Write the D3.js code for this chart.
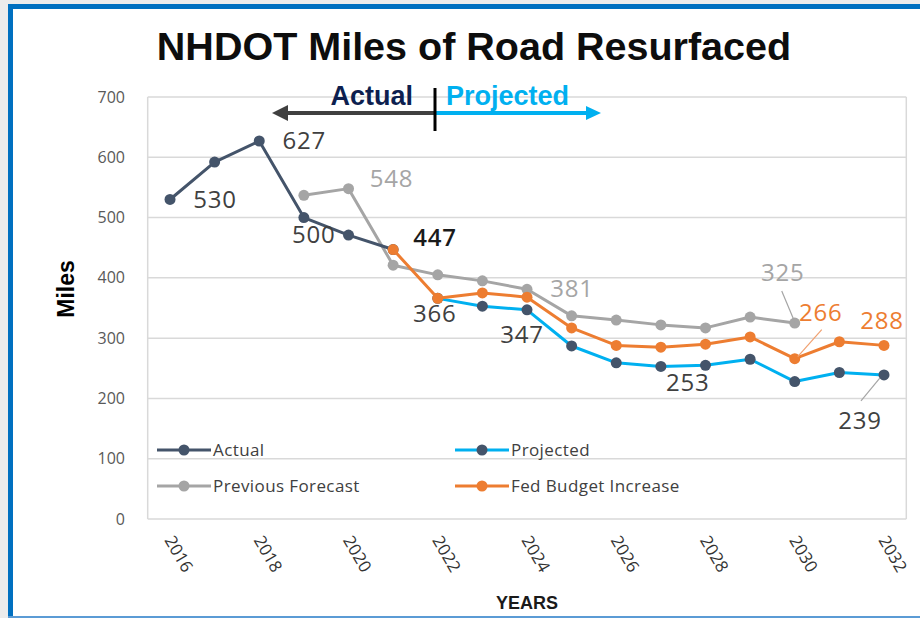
<!DOCTYPE html>
<html>
<head>
<meta charset="utf-8">
<script src="https://cdn.jsdelivr.net/npm/d3@7"></script>
<style>
  html, body { margin: 0; padding: 0; background: #ececec; }
  svg { display: block; }
</style>
</head>
<body>
<svg id="chart" width="920" height="618"></svg>
<script>
// ---- data ----
const years = [2016,2017,2018,2019,2020,2021,2022,2023,2024,2025,2026,2027,2028,2029,2030,2031,2032];
const tickYears = [2016,2018,2020,2022,2024,2026,2028,2030,2032];
const yTicks = [0,100,200,300,400,500,600,700];

const actualYears = [2016,2017,2018,2019,2020,2021];
const actualValues = [530,592,627,500,471,447];

const projectedYears = [2022,2023,2024,2025,2026,2027,2028,2029,2030,2031,2032];
const projectedValues = [366,353,347,287,259,253,255,265,228,243,239];

const previousYears = [2019,2020,2021,2022,2023,2024,2025,2026,2027,2028,2029,2030];
const previousValues = [537,548,421,405,395,381,337,330,322,317,335,325];

const fedYears = [2021,2022,2023,2024,2025,2026,2027,2028,2029,2030,2031,2032];
const fedValues = [447,366,375,368,317,288,285,290,302,266,294,288];

const seriesNames = ["Actual","Projected","Previous Forecast","Fed Budget Increase"];

// value labels: series, year, value
const labelSeries = ["actual","actual","actual","previous","fed","projected","projected","previous","projected","previous","fed","fed","projected"];
const labelYears  = [2016,2018,2019,2020,2021,2022,2024,2024,2027,2030,2030,2032,2032];
const labelValues = [530,627,500,548,447,366,347,381,253,325,266,288,239];

// ---- layout / style ----
const W = 920, H = 618;
const plot = {left: 147.7, right: 906.3, top: 97, bottom: 519};
const colors = {
  actual: "#44546a", projected: "#00b0f0", previous: "#a5a5a5", fed: "#ed7d31",
  marker: "#44546a", grid: "#d9d9d9"
};
const labelColors = {actual: "#404040", projected: "#404040", previous: "#a5a5a5", fed: "#ed7d31"};
// label offsets (dx, dy) from its point, and optional leader line
const labelOffsets = [
  {dx:45, dy:9}, {dx:45, dy:8}, {dx:10, dy:25}, {dx:43, dy:-2},
  {dx:42, dy:-4, bold:true}, {dx:-3, dy:24}, {dx:-5, dy:33}, {dx:45, dy:8},
  {dx:27, dy:25},
  {dx:-12, dy:-42, leader:[[-13,-32],[0,-1]]},
  {dx:26, dy:-38, leader:[[27,-29],[3,-2]]},
  {dx:-2, dy:-16},
  {dx:-24, dy:54, leader:[[-23,26],[-4,3]]}
];

const svg = d3.select("#chart");

// frame
svg.append("rect").attr("x", 0).attr("y", 0).attr("width", W).attr("height", H).attr("fill", "#ececec");
svg.append("rect").attr("x", 13).attr("y", 9).attr("width", W - 13).attr("height", 607).attr("fill", "#ffffff");
svg.append("rect").attr("x", 8).attr("y", 4).attr("width", 5).attr("height", H - 4).attr("fill", "#0070c0");
svg.append("rect").attr("x", 8).attr("y", 4).attr("width", W - 8).attr("height", 5).attr("fill", "#0070c0");
svg.append("rect").attr("x", 8).attr("y", 616).attr("width", W - 8).attr("height", 2).attr("fill", "#5b9bd5");

// scales
const x = d3.scaleBand().domain(years).range([plot.left, plot.right]).padding(0);
const cx = d => x(d) + x.bandwidth() / 2;
const y = d3.scaleLinear().domain([0, 700]).range([plot.bottom, plot.top]);

// grid
const gGrid = svg.append("g");
gGrid.selectAll("line").data(yTicks).join("line")
  .attr("x1", plot.left).attr("x2", plot.right)
  .attr("y1", d => y(d)).attr("y2", d => y(d))
  .attr("stroke", colors.grid).attr("stroke-width", 1.5);
gGrid.append("line").attr("x1", plot.left).attr("x2", plot.left).attr("y1", plot.top).attr("y2", plot.bottom)
  .attr("stroke", colors.grid).attr("stroke-width", 1.5);
gGrid.append("line").attr("x1", plot.right).attr("x2", plot.right).attr("y1", plot.top).attr("y2", plot.bottom)
  .attr("stroke", colors.grid).attr("stroke-width", 1.5);

// y axis
const yAxis = d3.axisLeft(y).tickValues(yTicks).tickSize(0).tickPadding(0);
const gy = svg.append("g").attr("transform", `translate(125,0)`).call(yAxis);
gy.select(".domain").remove();
gy.selectAll("text").attr("font-family", "'Open Sans', sans-serif").attr("font-size", 16)
  .attr("fill", "#595959").attr("text-anchor", "end");

// x axis
const xAxis = d3.axisBottom(x).tickValues(tickYears).tickSize(0).tickPadding(0);
const gx = svg.append("g").attr("transform", `translate(0,${plot.bottom})`).call(xAxis);
gx.select(".domain").remove();
gx.selectAll("text")
  .attr("font-family", "'Open Sans', sans-serif").attr("font-size", 17).attr("fill", "#333333")
  .attr("text-anchor", "start").attr("dy", 0).attr("y", 0)
  .attr("transform", "translate(-6,21) rotate(60)");

// axis titles
svg.append("text").attr("transform", "translate(74,289) rotate(-90)")
  .attr("text-anchor", "middle").attr("font-family", "'Liberation Sans', Arial, sans-serif")
  .attr("font-weight", "bold").attr("font-size", 23).attr("fill", "#000").text("Miles");
svg.append("text").attr("x", 527).attr("y", 609)
  .attr("text-anchor", "middle").attr("font-family", "'Liberation Sans', Arial, sans-serif")
  .attr("font-weight", "bold").attr("font-size", 18).attr("fill", "#1a1a1a").text("YEARS");

// title
svg.append("text").attr("x", 474).attr("y", 60)
  .attr("text-anchor", "middle").attr("font-family", "'Liberation Sans', Arial, sans-serif")
  .attr("font-weight", "bold").attr("font-size", 39.5).attr("fill", "#0d0d0d")
  .text("NHDOT Miles of Road Resurfaced");

// series
const line = d3.line().x(d => cx(d[0])).y(d => y(d[1]));
function drawSeries(yrs, vals, lineColor, markerColor) {
  const pts = yrs.map((yr, i) => [yr, vals[i]]);
  const g = svg.append("g");
  g.append("path").datum(pts).attr("d", line).attr("fill", "none")
    .attr("stroke", lineColor).attr("stroke-width", 3).attr("stroke-linejoin", "round");
  g.selectAll("circle").data(pts).join("circle")
    .attr("cx", d => cx(d[0])).attr("cy", d => y(d[1])).attr("r", 5.5)
    .attr("fill", markerColor);
}
drawSeries(previousYears, previousValues, colors.previous, colors.previous);
drawSeries(actualYears, actualValues, colors.actual, colors.marker);
drawSeries(projectedYears, projectedValues, colors.projected, colors.marker);
drawSeries(fedYears, fedValues, colors.fed, colors.fed);

// value labels
labelValues.forEach((v, i) => {
  const s = labelSeries[i];
  const px = cx(labelYears[i]), py = y(v);
  const o = labelOffsets[i];
  if (o.leader) {
    svg.append("line")
      .attr("x1", px + o.leader[0][0]).attr("y1", py + o.leader[0][1])
      .attr("x2", px + o.leader[1][0]).attr("y2", py + o.leader[1][1])
      .attr("stroke", s === "fed" ? "#f0a070" : "#a5a5a5").attr("stroke-width", 1.2);
  }
  svg.append("text").attr("x", px + o.dx).attr("y", py + o.dy)
    .attr("text-anchor", "middle").attr("font-family", "'Open Sans', sans-serif")
    .attr("font-size", 24).attr("letter-spacing", 0.8)
    .attr("font-weight", o.bold ? 600 : 400)
    .attr("fill", o.bold ? "#1a1a1a" : labelColors[s]).text(v);
});

// legend
const legendItems = [
  {name: seriesNames[0], line: colors.actual, marker: colors.marker, x: 157, y: 450},
  {name: seriesNames[1], line: colors.projected, marker: colors.marker, x: 455, y: 450},
  {name: seriesNames[2], line: colors.previous, marker: colors.previous, x: 157, y: 486},
  {name: seriesNames[3], line: colors.fed, marker: colors.fed, x: 455, y: 486}
];
const gl = svg.append("g");
legendItems.forEach(it => {
  gl.append("line").attr("x1", it.x).attr("x2", it.x + 54).attr("y1", it.y).attr("y2", it.y)
    .attr("stroke", it.line).attr("stroke-width", 3);
  gl.append("circle").attr("cx", it.x + 27).attr("cy", it.y).attr("r", 5.5).attr("fill", it.marker);
  gl.append("text").attr("x", it.x + 56).attr("y", it.y + 6)
    .attr("font-family", "'Open Sans', sans-serif").attr("font-size", 17).attr("letter-spacing", 0.4)
    .attr("fill", "#404040").text(it.name);
});

// Actual / Projected annotation
const ann = svg.append("g");
ann.append("line").attr("x1", 435).attr("x2", 284).attr("y1", 113).attr("y2", 113)
  .attr("stroke", "#404040").attr("stroke-width", 4);
ann.append("path").attr("d", "M272,113 L288,105 L288,121 Z").attr("fill", "#404040");
ann.append("line").attr("x1", 435).attr("x2", 588).attr("y1", 113).attr("y2", 113)
  .attr("stroke", "#00b0f0").attr("stroke-width", 4);
ann.append("path").attr("d", "M601,113 L586,106 L586,120 Z").attr("fill", "#00b0f0");
ann.append("line").attr("x1", 435).attr("x2", 435).attr("y1", 88).attr("y2", 131)
  .attr("stroke", "#000").attr("stroke-width", 3);
ann.append("text").attr("x", 413).attr("y", 105).attr("text-anchor", "end")
  .attr("font-family", "'Liberation Sans', Arial, sans-serif").attr("font-weight", "bold")
  .attr("font-size", 27).attr("fill", "#0d1f4f").text("Actual");
ann.append("text").attr("x", 446).attr("y", 105).attr("text-anchor", "start")
  .attr("font-family", "'Liberation Sans', Arial, sans-serif").attr("font-weight", "bold")
  .attr("font-size", 27).attr("fill", "#00b0f0").text("Projected");
</script>
</body>
</html>
